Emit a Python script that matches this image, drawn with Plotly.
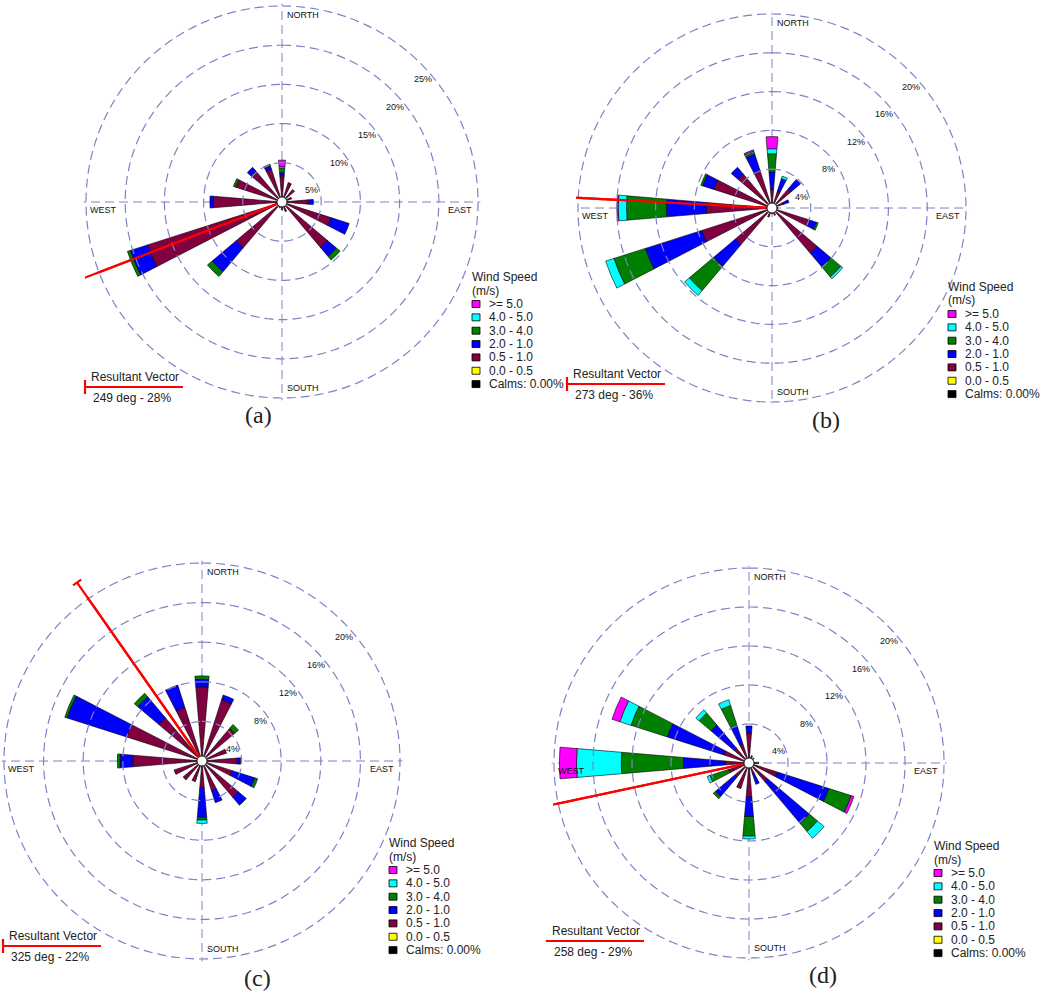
import math
import plotly.graph_objects as go

# ---------------- data ----------------
directions = ["N", "NNE", "NE", "ENE", "E", "ESE", "SE", "SSE",
              "S", "SSW", "SW", "WSW", "W", "WNW", "NW", "NNW"]
dir_deg = [0, 22.5, 45, 67.5, 90, 112.5, 135, 157.5,
           180, 202.5, 225, 247.5, 270, 292.5, 315, 337.5]

class_labels = ["0.0 - 0.5", "0.5 - 1.0", "2.0 - 1.0", "3.0 - 4.0", "4.0 - 5.0", ">= 5.0"]
class_colors = ["#ffff00", "#800040", "#0000ff", "#008000", "#00ffff", "#ff00ff"]
legend_labels = [">= 5.0", "4.0 - 5.0", "3.0 - 4.0", "2.0 - 1.0", "0.5 - 1.0", "0.0 - 0.5", "Calms: 0.00%"]
legend_colors = ["#ff00ff", "#00ffff", "#008000", "#0000ff", "#800040", "#ffff00", "#000000"]

zero16 = [0] * 16

# panel (a)  (% frequency per direction, per speed class)
a_05_10 = [3.3, 2.6, 2.1, 1.3, 3.36, 6.55, 7.6, 1.3, 1.0, 0.8, 7.66, 18.0, 8.76, 6.2, 5.2, 4.4]
a_10_20 = [0.45, 0, 0, 0, 0.64, 2.45, 1.5, 0, 0, 0, 4.0, 2.3, 0.44, 0, 0.6, 0.4]
a_30_40 = [0.55, 0, 0, 0, 0, 0, 0.6, 0, 0, 0, 0.8, 0.4, 0, 0.3, 0, 0.26]
a_40_50 = [0.2, 0, 0, 0, 0, 0, 0, 0, 0, 0, 0, 0, 0, 0, 0, 0]
a_50 = [0.85, 0, 0, 0, 0, 0, 0, 0, 0, 0, 0, 0, 0, 0, 0, 0]

# panel (b)
b_05_10 = [1.97, 1.8, 2.6, 1.2, 0.6, 4.07, 6.1, 0.8, 0.6, 1.0, 4.94, 7.6, 6.77, 6.3, 4.57, 4.0]
b_10_20 = [1.76, 1.4, 1.26, 0.64, 0, 0.73, 1.84, 0, 0, 0, 2.93, 6.1, 4.13, 1.2, 0.93, 1.8]
b_30_40 = [1.87, 0, 0, 0, 0, 0.2, 1.36, 0, 0, 0, 3.29, 3.4, 4.1, 0.2, 0, 0.2]
b_40_50 = [0.52, 0.25, 0, 0, 0, 0, 0.25, 0, 0, 0, 0.64, 0.9, 0.85, 0, 0, 0.15]
b_50 = [1.24, 0, 0, 0, 0, 0, 0, 0, 0, 0, 0, 0, 0.15, 0, 0, 0.15]

# panel (c)
c_05_10 = [7.5, 6.5, 4.33, 2.6, 3.57, 3.2, 4.8, 3.14, 2.7, 2.2, 2.5, 2.96, 7.0, 8.0, 5.7, 5.69]
c_10_20 = [0.75, 0.5, 0, 0, 0.33, 2.4, 1.06, 1.28, 3.0, 0, 0, 0, 1.28, 6.3, 2.8, 2.36]
c_30_40 = [0.35, 0, 0.5, 0, 0, 0.3, 0, 0, 0.27, 0, 0, 0, 0.27, 0.25, 0.46, 0]
c_40_50 = [0, 0, 0, 0, 0, 0, 0, 0, 0.34, 0, 0, 0, 0, 0, 0, 0]
c_50 = zero16

# panel (d)
d_05_10 = [3.1, 0.8, 0.7, 0.5, 0.4, 3.05, 2.5, 1.2, 3.5, 2.76, 1.9, 2.2, 2.46, 2.7, 2.0, 2.06]
d_10_20 = [0.7, 0, 0, 0, 0.1, 5.55, 5.6, 1.1, 2.0, 0, 2.6, 0, 4.28, 6.1, 3.1, 2.0]
d_30_40 = [0, 0, 0, 0, 0.5, 2.4, 1.1, 0, 2.0, 0, 0.3, 2.0, 6.36, 3.9, 1.6, 2.14]
d_40_50 = [0, 0, 0, 0, 0, 0, 0.9, 0, 0.3, 0, 0, 0.3, 4.6, 1.2, 0.45, 0.62]
d_50 = [0, 0, 0, 0, 0, 0.3, 0, 0, 0, 0, 0, 0, 1.75, 0.85, 0, 0]

ring_a = [5, 10, 15, 20, 25]
ring_bcd = [4, 8, 12, 16, 20]

resultant_deg = [249, 273, 325, 258]
resultant_pct = [28, 36, 22, 29]
panel_letters = ["(a)", "(b)", "(c)", "(d)"]

# ---------------- layout geometry (pixels) ----------------
W, H = 1050, 993
RING_COLOR = "#8080c8"
DASH = "9px,5px"
RED = "#ff0000"
PAD = 1.012  # polar range slightly beyond the outer ring so it is not clipped

panels = [
    dict(cx=282, cy=202, R=196, rings=ring_a,
         data=[zero16, a_05_10, a_10_20, a_30_40, a_40_50, a_50],
         box=(85, 0, 525, 430), end_tick=False, leg_tick=True,
         leg=(470, 277), res=(85, 377), letter=(258, 415)),
    dict(cx=772, cy=208, R=194, rings=ring_bcd,
         data=[zero16, b_05_10, b_10_20, b_30_40, b_40_50, b_50],
         box=(578, 0, 1050, 430), end_tick=False, leg_tick=True,
         leg=(946, 287), res=(567, 374), letter=(826, 420)),
    dict(cx=202, cy=761, R=198, rings=ring_bcd,
         data=[zero16, c_05_10, c_10_20, c_30_40, c_40_50, c_50],
         box=(0, 480, 525, 993), end_tick=True, leg_tick=True,
         leg=(387, 843), res=(3, 936), letter=(257, 978)),
    dict(cx=749, cy=763, R=195, rings=ring_bcd,
         data=[zero16, d_05_10, d_10_20, d_30_40, d_40_50, d_50],
         box=(553, 480, 1050, 993), end_tick=False, leg_tick=False,
         leg=(932, 846), res=(546, 931), letter=(823, 975)),
]


def px(x):
    return x / W


def py(y):
    return 1 - y / H


fig = go.Figure()
annotations = []
shapes = []
LABEL_FONT = dict(family="Liberation Sans, Arial", size=9, color="#111111")
TEXT_FONT = dict(family="Liberation Sans, Arial", size=12, color="#222222")
ring_theta = list(range(0, 361, 1))

for i, p in enumerate(panels):
    pid = "polar" if i == 0 else f"polar{i + 1}"
    xid = "x" if i == 0 else f"x{i + 1}"
    yid = "y" if i == 0 else f"y{i + 1}"
    cx, cy, R = p["cx"], p["cy"], p["R"]
    outer = p["rings"][-1]
    scale = R / outer  # px per %
    Rd = R * PAD

    # --- cartesian overlay (same % units) for the part of the resultant vector outside the rings
    bx0, by0, bx1, by1 = p["box"]
    fig.update_layout(**{
        ("xaxis" if i == 0 else f"xaxis{i + 1}"): dict(
            domain=[px(bx0), px(bx1)], range=[(bx0 - cx) / scale, (bx1 - cx) / scale],
            visible=False, fixedrange=True, anchor=yid),
        ("yaxis" if i == 0 else f"yaxis{i + 1}"): dict(
            domain=[py(by1), py(by0)], range=[(cy - by1) / scale, (cy - by0) / scale],
            visible=False, fixedrange=True, anchor=xid),
    })
    rv = resultant_pct[i]
    th = math.radians(resultant_deg[i])
    fig.add_trace(go.Scatter(
        x=[0, rv * math.sin(th)], y=[0, rv * math.cos(th)], mode="lines",
        line=dict(color=RED, width=2.2), xaxis=xid, yaxis=yid,
        showlegend=False, hoverinfo="skip"))
    if p["end_tick"]:
        hl = 5 / scale
        fig.add_trace(go.Scatter(
            x=[rv * math.sin(th) - hl * math.cos(th), rv * math.sin(th) + hl * math.cos(th)],
            y=[rv * math.cos(th) + hl * math.sin(th), rv * math.cos(th) - hl * math.sin(th)],
            mode="lines", line=dict(color=RED, width=2.2), xaxis=xid, yaxis=yid,
            showlegend=False, hoverinfo="skip"))

    # --- rings
    for v in p["rings"]:
        fig.add_trace(go.Scatterpolar(
            r=[v] * len(ring_theta), theta=ring_theta, mode="lines",
            line=dict(color=RING_COLOR, width=1.2, dash=DASH),
            showlegend=False, subplot=pid, hoverinfo="skip"))

    # --- stacked wedges
    for k, vals in enumerate(p["data"]):
        fig.add_trace(go.Barpolar(
            r=vals, theta=dir_deg, width=[9.6] * 16,
            marker=dict(color=class_colors[k],
                        line=dict(color="black", width=0.6 if k > 0 else 0)),
            name=class_labels[k], showlegend=False, subplot=pid,
            hoverinfo="skip"))

    # --- resultant vector (inside part, on top of wedges)
    fig.add_trace(go.Scatterpolar(
        r=[0, rv], theta=[resultant_deg[i]] * 2, mode="lines",
        line=dict(color=RED, width=2.2),
        showlegend=False, subplot=pid, hoverinfo="skip"))

    # --- calm circle at center
    fig.add_trace(go.Scatterpolar(
        r=[0], theta=[0], mode="markers",
        marker=dict(size=10, color="white", line=dict(color="black", width=0.8)),
        showlegend=False, subplot=pid, hoverinfo="skip"))

    fig.update_layout(**{pid: dict(
        domain=dict(x=[px(cx - Rd), px(cx + Rd)], y=[max(0, py(cy + Rd)), min(1, py(cy - Rd))]),
        bgcolor="rgba(0,0,0,0)", barmode="stack", bargap=0,
        radialaxis=dict(range=[0, outer * PAD], showticklabels=False, showgrid=False,
                        showline=False, ticks=""),
        angularaxis=dict(direction="clockwise", rotation=90, tickvals=[0, 90, 180, 270],
                         showticklabels=False, ticks="", showline=False,
                         gridcolor=RING_COLOR, griddash=DASH, gridwidth=1.2),
    )})

    # ring percentage labels
    for v in p["rings"]:
        rp = v * scale
        lx = cx + rp * math.sin(math.radians(45)) + 2
        ly = cy - rp * math.cos(math.radians(45)) + 16
        annotations.append(dict(x=px(lx), y=py(ly), xref="paper", yref="paper",
                                text=f"{v}%", showarrow=False, font=LABEL_FONT,
                                xanchor="center", yanchor="middle"))
    # compass labels
    comp = [
        dict(x=px(cx + 3), y=py(cy - R + 9), text="NORTH", xanchor="left"),
        dict(x=px(cx + 3), y=py(cy + R - 10), text="SOUTH", xanchor="left"),
        dict(x=px(cx - R + 2), y=py(cy + 8), text="WEST", xanchor="left"),
        dict(x=px(cx + R - 4), y=py(cy + 8), text="EAST", xanchor="right"),
    ]
    for a in comp:
        a.update(xref="paper", yref="paper", showarrow=False, font=LABEL_FONT, yanchor="middle")
    annotations += comp

    # legend
    lx0, ly0 = p["leg"]
    annotations.append(dict(x=px(lx0), y=py(ly0), text="Wind Speed", xref="paper", yref="paper",
                            showarrow=False, font=TEXT_FONT, xanchor="left", yanchor="middle"))
    annotations.append(dict(x=px(lx0), y=py(ly0 + 13.5), text="(m/s)", xref="paper", yref="paper",
                            showarrow=False, font=TEXT_FONT, xanchor="left", yanchor="middle"))
    for j, (lab, col) in enumerate(zip(legend_labels, legend_colors)):
        yy = ly0 + 27 + 13.35 * j
        shapes.append(dict(type="rect", xref="paper", yref="paper",
                           x0=px(lx0 + 2), x1=px(lx0 + 10), y0=py(yy + 3.5), y1=py(yy - 3.5),
                           fillcolor=col, line=dict(color="black", width=0.8)))
        annotations.append(dict(x=px(lx0 + 17), y=py(yy), text=lab, xref="paper", yref="paper",
                                showarrow=False, font=TEXT_FONT, xanchor="left", yanchor="middle"))

    # resultant vector box
    rx, ry = p["res"]
    annotations.append(dict(x=px(rx + 4), y=py(ry), text="Resultant Vector", xref="paper", yref="paper",
                            showarrow=False, font=TEXT_FONT, xanchor="left", yanchor="middle"))
    annotations.append(dict(x=px(rx + 6), y=py(ry + 21), text=f"{resultant_deg[i]} deg - {resultant_pct[i]}%",
                            xref="paper", yref="paper", showarrow=False, font=TEXT_FONT,
                            xanchor="left", yanchor="middle"))
    shapes.append(dict(type="line", xref="paper", yref="paper", x0=px(rx), x1=px(rx + 98),
                       y0=py(ry + 10), y1=py(ry + 10), line=dict(color=RED, width=2.2)))
    if p["leg_tick"]:
        shapes.append(dict(type="line", xref="paper", yref="paper", x0=px(rx), x1=px(rx),
                           y0=py(ry + 3), y1=py(ry + 17), line=dict(color=RED, width=2.2)))

    # panel letter
    lx, ly = p["letter"]
    annotations.append(dict(x=px(lx), y=py(ly), text=panel_letters[i], xref="paper", yref="paper",
                            showarrow=False, xanchor="center", yanchor="middle",
                            font=dict(family="Liberation Serif, Times New Roman", size=24, color="#222222")))

fig.update_layout(width=W, height=H, margin=dict(l=0, r=0, t=0, b=0),
                  paper_bgcolor="white", plot_bgcolor="rgba(0,0,0,0)",
                  annotations=annotations, shapes=shapes, showlegend=False)

fig.write_html("out.html", config={"displayModeBar": False},
               post_script="document.body.style.margin='0';")
